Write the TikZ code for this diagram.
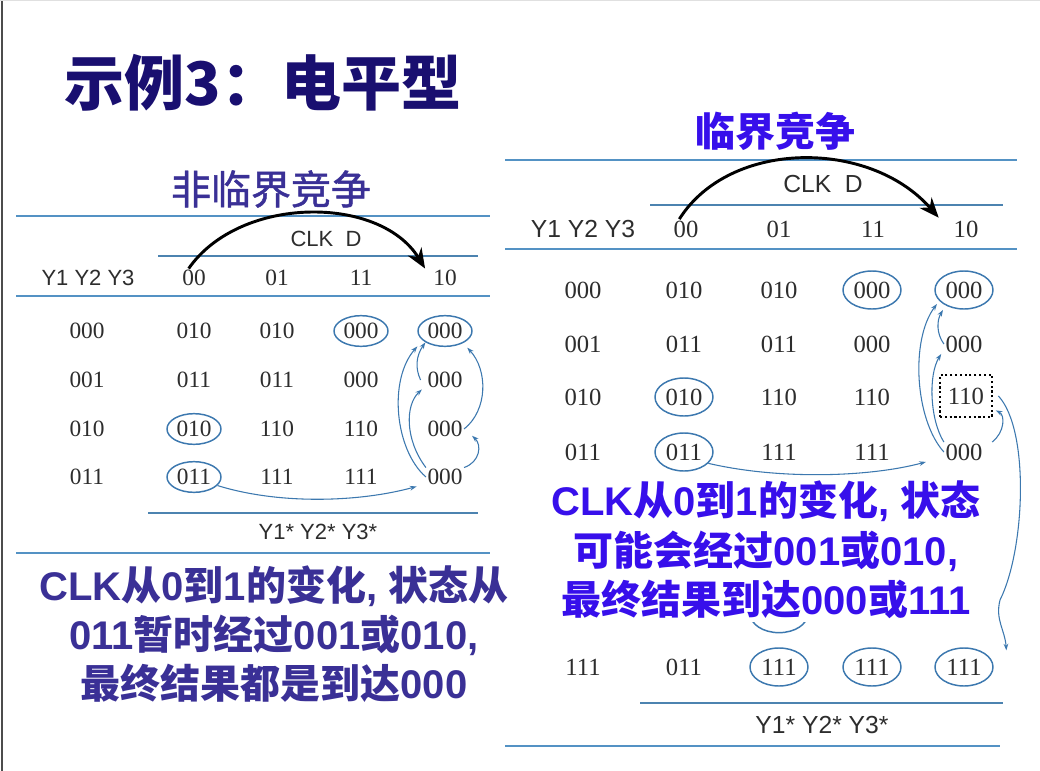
\documentclass[tikz,border=0pt]{standalone}
\usepackage{fontspec}
\setmainfont{Liberation Serif}
\setsansfont{Liberation Sans}
\newfontfamily\cjk{Noto Sans CJK SC}
\newfontfamily\cjkmid{Noto Sans CJK SC}[FakeBold=1.2]
\usetikzlibrary{shapes.geometric,arrows.meta}
\definecolor{rulec}{RGB}{84,146,196}
\definecolor{circc}{RGB}{60,120,175}
\definecolor{numc}{RGB}{45,45,45}
\definecolor{titlec}{RGB}{25,15,112}
\definecolor{indigo}{RGB}{58,48,150}
\definecolor{vivid}{RGB}{55,15,235}
\newcommand{\C}[1]{{\cjk #1}}
\begin{document}
\begin{tikzpicture}[x=0.75pt,y=-0.75pt,
  rulex/.style={draw=rulec, line width=2.2pt},
  subrule/.style={draw=rulec!90!black, line width=1.6pt},
  numL/.style={font=\fontsize{17.5}{20}\selectfont, text=numc, inner sep=1pt},
  numR/.style={font=\fontsize{18.5}{22}\selectfont, text=numc, inner sep=1pt},
  sfL/.style={font=\sffamily\fontsize{16.5}{20}\selectfont, text=numc},
  sfR/.style={font=\sffamily\fontsize{18.5}{22}\selectfont, text=numc},
  ovalL/.style={ellipse, draw=circc, line width=1.1pt, minimum width=40.5pt, minimum height=23pt, inner sep=0.5pt},
  ovalR/.style={ellipse, draw=circc, line width=1.1pt, minimum width=43.5pt, minimum height=28.5pt, inner sep=0.5pt},
  bigarrow/.style={-{Stealth[length=15pt,width=12pt]}, line width=2.2pt, black},
  flow/.style={-{Stealth[length=5pt,width=3.5pt]}, draw=circc, line width=0.8pt},
  note/.style={font=\sffamily\bfseries\fontsize{30}{37}\selectfont, align=center, inner sep=0pt},
  heading/.style={font=\cjkmid\fontsize{30}{36}\selectfont, inner sep=0pt}
]
\useasboundingbox (0,0) rectangle (1040,771);
\fill[white] (0,0) rectangle (1040,771);
\draw[black!70, line width=1.2pt] (2,0) -- (2,771);
\draw[black!12, line width=1pt] (0,0.7) -- (1040,0.7);

% title
\node[font=\cjk\bfseries\fontsize{45}{50}\selectfont, text=titlec] (title) at (263,83) {示例3：电平型};

% ---------------- left table ----------------
\node[heading, text=indigo] (lhead) at (271,189) {非临界竞争};
\draw[rulex] (16,216) -- (490,216);
\draw[subrule] (158,256) -- (478,256);
\draw[rulex] (16,296) -- (490,296);
\draw[subrule] (148,513) -- (478,513);
\draw[rulex] (16,553) -- (490,553);

\node[sfL] (lclk) at (326,239) {CLK\ \ D};
\node[sfL] (ly) at (88,278) {Y1 Y2 Y3};
\node[numL] (LH1) at (194,278) {00};
\node[numL] (LH2) at (277,278) {01};
\node[numL] (LH3) at (361,278) {11};
\node[numL] (LH4) at (445,278) {10};

\node[numL] (LA0) at (87,331) {000};
\node[numL] (LA1) at (194,331) {010};
\node[numL] (LA2) at (277,331) {010};
\node[numL,ovalL] (LA3) at (361,331) {000};
\node[numL,ovalL] (LA4) at (445,331) {000};

\node[numL] (LB0) at (87,380) {001};
\node[numL] (LB1) at (194,380) {011};
\node[numL] (LB2) at (277,380) {011};
\node[numL] (LB3) at (361,380) {000};
\node[numL] (LB4) at (445,380) {000};

\node[numL] (LC0) at (87,429) {010};
\node[numL,ovalL] (LC1) at (194,429) {010};
\node[numL] (LC2) at (277,429) {110};
\node[numL] (LC3) at (361,429) {110};
\node[numL] (LC4) at (445,429) {000};

\node[numL] (LD0) at (87,477) {011};
\node[numL,ovalL] (LD1) at (194,477) {011};
\node[numL] (LD2) at (277,477) {111};
\node[numL] (LD3) at (361,477) {111};
\node[numL] (LD4) at (445,477) {000};

\node[sfL] (lstar) at (318,532) {Y1* Y2* Y3*};

\draw[bigarrow] ([xshift=-4pt]LH1.north) .. controls (240,195) and (380,195) .. ([xshift=-5pt]LH4.north west);

\draw[flow] (LD1.-20) .. controls (280,505) and (360,502) .. ([xshift=-7pt]LD4.south west);
\draw[flow] (LD4.west) .. controls (395,450) and (388,380) .. ([xshift=-6pt,yshift=-3pt]LA4.south west);
\draw[flow] (LD4.north west) .. controls (405,440) and (405,405) .. ([xshift=-3pt]LB4.south west);
\draw[flow] ([xshift=-4pt]LB4.west) .. controls (415,368) and (416,356) .. (LA4.south west);
\draw[flow] (LD4.north east) .. controls (480,462) and (482,445) .. ([xshift=6pt,yshift=2pt]LC4.south east);
\draw[flow] (LC4.east) .. controls (488,410) and (488,370) .. ([xshift=2pt,yshift=-4pt]LA4.south east);

\node[note, text=indigo] (ltext) at (274,634) {CLK\C{从}0\C{到}1\C{的变化}, \C{状态从}\\011\C{暂时经过}001\C{或}010,\\\C{最终结果都是到达}000};

% ---------------- right table ----------------
\node[heading, font=\cjk\bfseries\fontsize{30}{36}\selectfont, text=vivid] (rhead) at (775,131) {临界竞争};
\draw[rulex] (505,160) -- (1017,160);
\draw[subrule] (650,205) -- (1003,205);
\draw[rulex] (505,249) -- (1017,249);
\draw[subrule] (640,703) -- (1003,703);
\draw[rulex] (505,746) -- (1000,746);

\node[sfR] (rclk) at (823,184) {CLK\ \ D};
\node[sfR] (ry) at (583,229) {Y1 Y2 Y3};
\node[numR] (RH1) at (686,229) {00};
\node[numR] (RH2) at (779,229) {01};
\node[numR] (RH3) at (873,229) {11};
\node[numR] (RH4) at (966,229) {10};

\node[numR] (RA0) at (583,290) {000};
\node[numR] (RA1) at (684,290) {010};
\node[numR] (RA2) at (779,290) {010};
\node[numR,ovalR] (RA3) at (872,290) {000};
\node[numR,ovalR] (RA4) at (964,290) {000};

\node[numR] (RB0) at (583,344) {001};
\node[numR] (RB1) at (684,344) {011};
\node[numR] (RB2) at (779,344) {011};
\node[numR] (RB3) at (872,344) {000};
\node[numR] (RB4) at (964,344) {000};

\node[numR] (RC0) at (583,397) {010};
\node[numR,ovalR] (RC1) at (684,397) {010};
\node[numR] (RC2) at (779,397) {110};
\node[numR] (RC3) at (872,397) {110};
\node[numR, draw=black, dotted, line width=1.6pt, minimum width=39pt, minimum height=32pt] (RC4) at (966,396) {110};

\node[numR] (RD0) at (583,452) {011};
\node[numR,ovalR] (RD1) at (684,452) {011};
\node[numR] (RD2) at (779,452) {111};
\node[numR] (RD3) at (872,452) {111};
\node[numR] (RD4) at (964,452) {000};

\node[numR] (RL0) at (583,667) {111};
\node[numR] (RL1) at (684,667) {011};
\node[numR,ovalR] (RL2) at (779,667) {111};
\node[numR,ovalR] (RL3) at (872,667) {111};
\node[numR,ovalR] (RL4) at (964,667) {111};

\node[sfR] (rstar) at (822,725) {Y1* Y2* Y3*};

% ring of a hidden row, mostly covered by the text box
\draw[circc, line width=1.1pt] (779,614) ellipse [x radius=21.5pt, y radius=14pt];

\draw[bigarrow] ([xshift=-5pt]RH1.north) .. controls (730,139) and (870,139) .. ([xshift=-10pt,yshift=1pt]RH4.north west);

\draw[flow] (RD1.-25) .. controls (780,480) and (870,477) .. ([xshift=-13.5pt]RD4.south west);
\draw[flow] (RD4.west) .. controls (915,420) and (910,340) .. ([xshift=-4.5pt]RA4.south west);
\draw[flow] (RD4.north west) .. controls (930,420) and (928,375) .. ([xshift=-2pt]RB4.south west);
\draw[flow] (RB4.west) .. controls (936,333) and (937,320) .. ([yshift=-4.5pt]RA4.south west);
\draw[flow] ([xshift=6pt]RD4.north east) .. controls (1005,432) and (1005,415) .. ([xshift=2pt,yshift=6pt]RC4.south east);
\draw[flow] ([xshift=4pt]RC4.east) .. controls (1030,430) and (1025,550) .. (1000,600) .. controls (995,620) and (1005,630) .. ([xshift=16pt,yshift=2pt]RL4.north east);

\node[note, text=vivid, fill=white, minimum width=339pt, minimum height=108pt] (rtext) at (766,550) {CLK\C{从}0\C{到}1\C{的变化}, \C{状态}\\\C{可能会经过}001\C{或}010,\\\C{最终结果到达}000\C{或}111};
\end{tikzpicture}
\end{document}
